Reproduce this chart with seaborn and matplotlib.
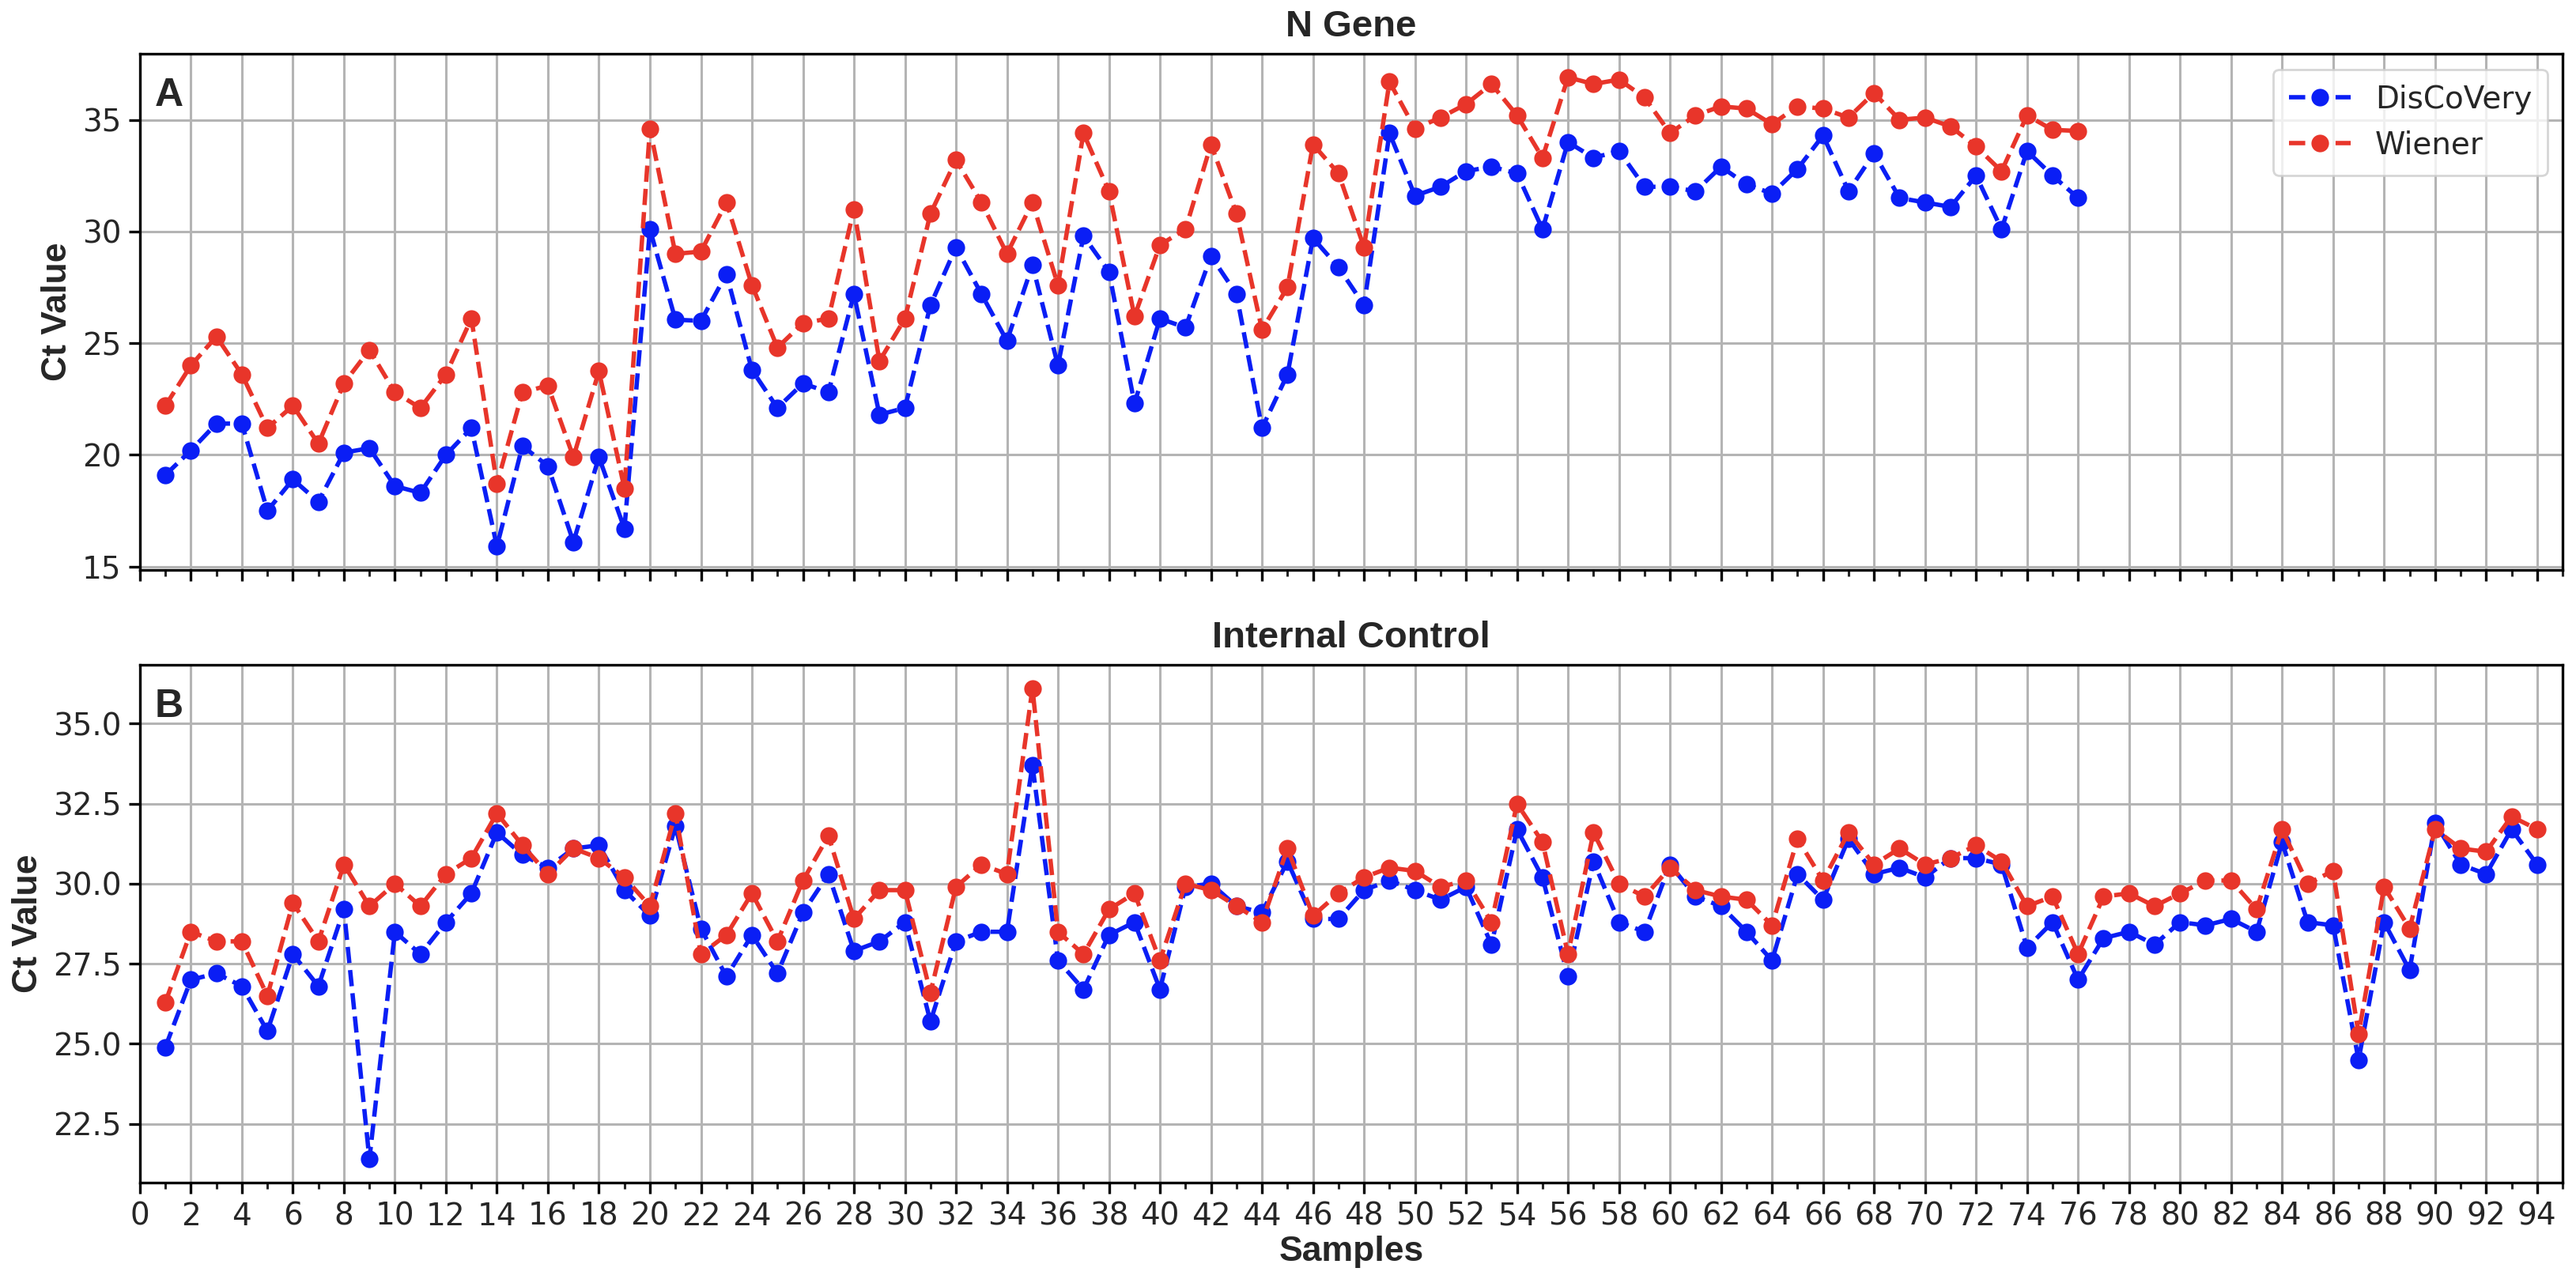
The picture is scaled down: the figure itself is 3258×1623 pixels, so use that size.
import matplotlib
matplotlib.use("Agg")
import matplotlib.pyplot as plt
import seaborn as sns
from matplotlib.ticker import MultipleLocator

# N Gene Ct values, samples 1-76
n_samples = list(range(1, 77))
n_discovery = [19.1, 20.2, 21.4, 21.4, 17.5, 18.9, 17.9, 20.1, 20.3, 18.6,
               18.3, 20.0, 21.2, 15.9, 20.4, 19.5, 16.1, 19.9, 16.7, 30.1,
               26.05, 26.0, 28.1, 23.8, 22.1, 23.2, 22.8, 27.2, 21.8, 22.1,
               26.7, 29.3, 27.2, 25.1, 28.5, 24.0, 29.8, 28.2, 22.3, 26.1,
               25.7, 28.9, 27.2, 21.2, 23.6, 29.7, 28.4, 26.7, 34.4, 31.6,
               32.0, 32.7, 32.9, 32.6, 30.1, 34.0, 33.3, 33.6, 32.0, 32.0,
               31.8, 32.9, 32.1, 31.7, 32.8, 34.3, 31.8, 33.5, 31.5, 31.3,
               31.1, 32.5, 30.1, 33.6, 32.5, 31.5]
n_wiener = [22.2, 24.0, 25.3, 23.6, 21.2, 22.2, 20.5, 23.2, 24.7, 22.8,
            22.1, 23.6, 26.1, 18.7, 22.8, 23.1, 19.9, 23.75, 18.5, 34.6,
            29.0, 29.1, 31.3, 27.6, 24.8, 25.9, 26.1, 31.0, 24.2, 26.1,
            30.8, 33.2, 31.3, 29.0, 31.3, 27.6, 34.4, 31.8, 26.2, 29.4,
            30.1, 33.9, 30.8, 25.6, 27.5, 33.9, 32.6, 29.3, 36.7, 34.6,
            35.1, 35.7, 36.6, 35.2, 33.3, 36.9, 36.6, 36.8, 36.0, 34.4,
            35.2, 35.6, 35.5, 34.8, 35.6, 35.5, 35.1, 36.2, 35.0, 35.1,
            34.7, 33.8, 32.7, 35.2, 34.55, 34.5]

# Internal control Ct values, samples 1-94
ic_samples = list(range(1, 95))
ic_discovery = [24.9, 27.0, 27.2, 26.8, 25.4, 27.8, 26.8, 29.2, 21.4, 28.5,
                27.8, 28.8, 29.7, 31.6, 30.9, 30.5, 31.1, 31.2, 29.8, 29.0,
                31.8, 28.6, 27.1, 28.4, 27.2, 29.1, 30.3, 27.9, 28.2, 28.8,
                25.7, 28.2, 28.5, 28.5, 33.7, 27.6, 26.7, 28.4, 28.8, 26.7,
                29.9, 30.0, 29.3, 29.1, 30.7, 28.9, 28.9, 29.8, 30.1, 29.8,
                29.5, 29.9, 28.1, 31.7, 30.2, 27.1, 30.7, 28.8, 28.5, 30.6,
                29.6, 29.3, 28.5, 27.6, 30.3, 29.5, 31.4, 30.3, 30.5, 30.2,
                30.8, 30.8, 30.6, 28.0, 28.8, 27.0, 28.3, 28.5, 28.1, 28.8,
                28.7, 28.9, 28.5, 31.3, 28.8, 28.7, 24.5, 28.8, 27.3, 31.9,
                30.6, 30.3, 31.7, 30.6]
ic_wiener = [26.3, 28.5, 28.2, 28.2, 26.5, 29.4, 28.2, 30.6, 29.3, 30.0,
             29.3, 30.3, 30.8, 32.2, 31.2, 30.3, 31.1, 30.8, 30.2, 29.3,
             32.2, 27.8, 28.4, 29.7, 28.2, 30.1, 31.5, 28.9, 29.8, 29.8,
             26.6, 29.9, 30.6, 30.3, 36.1, 28.5, 27.8, 29.2, 29.7, 27.6,
             30.0, 29.8, 29.3, 28.8, 31.1, 29.0, 29.7, 30.2, 30.5, 30.4,
             29.9, 30.1, 28.8, 32.5, 31.3, 27.8, 31.6, 30.0, 29.6, 30.5,
             29.8, 29.6, 29.5, 28.7, 31.4, 30.1, 31.6, 30.6, 31.1, 30.6,
             30.8, 31.2, 30.7, 29.3, 29.6, 27.8, 29.6, 29.7, 29.3, 29.7,
             30.1, 30.1, 29.2, 31.7, 30.0, 30.4, 25.3, 29.9, 28.6, 31.7,
             31.1, 31.0, 32.1, 31.7]

blue = '#0a1ef5'
red = '#e8352a'
bold_font = ['Liberation Sans', 'DejaVu Sans']

sns.set_style("ticks")
plt.rcParams['font.family'] = ['DejaVu Sans']

fig = plt.figure(figsize=(16.29, 8.115), dpi=200)
ax_top = fig.add_axes([0.0543, 0.5558, 0.9405, 0.4022])
ax_bot = fig.add_axes([0.0543, 0.0782, 0.9405, 0.4036])

line_kw = dict(linestyle='--', linewidth=2, marker='o', markersize=8,
               markeredgewidth=0)

sns.lineplot(x=n_samples, y=n_discovery, ax=ax_top, color=blue,
             label='DisCoVery', **line_kw)
sns.lineplot(x=n_samples, y=n_wiener, ax=ax_top, color=red,
             label='Wiener', **line_kw)
sns.lineplot(x=ic_samples, y=ic_discovery, ax=ax_bot, color=blue,
             legend=False, **line_kw)
sns.lineplot(x=ic_samples, y=ic_wiener, ax=ax_bot, color=red,
             legend=False, **line_kw)

for ax, title, letter, ystep in [(ax_top, 'N Gene', 'A', 5),
                                 (ax_bot, 'Internal Control', 'B', 2.5)]:
    ax.set_xlim(0, 95)
    ax.xaxis.set_major_locator(MultipleLocator(2))
    ax.xaxis.set_minor_locator(MultipleLocator(1))
    ax.yaxis.set_major_locator(MultipleLocator(ystep))
    ax.grid(True, which='major', color='#b4b4b4', linewidth=1.1)
    ax.set_axisbelow(True)
    ax.tick_params(axis='both', which='major', labelsize=14, length=5,
                   width=1.2, color='black')
    ax.tick_params(axis='x', which='minor', length=2.8, width=1.1)
    for sp in ax.spines.values():
        sp.set_color('black')
        sp.set_linewidth(1.2)
    ax.set_title(title, fontsize=17, fontweight='bold', family=bold_font, pad=8)
    ax.set_ylabel('Ct Value', fontsize=16, fontweight='bold', family=bold_font)
    ax.text(0.006, 0.955, letter, transform=ax.transAxes, fontsize=18,
            fontweight='bold', family=bold_font, va='top', ha='left')

ax_bot.yaxis.set_major_formatter(plt.FormatStrFormatter('%.1f'))
ax_top.tick_params(axis='x', labelbottom=False)
ax_top.set_xlabel('')
ax_bot.set_xlabel('Samples', fontsize=16, fontweight='bold', family=bold_font,
                  labelpad=2)

ax_top.legend(loc='upper right', fontsize=14, frameon=True, borderpad=0.5)

fig.savefig('out.png', dpi=200)
